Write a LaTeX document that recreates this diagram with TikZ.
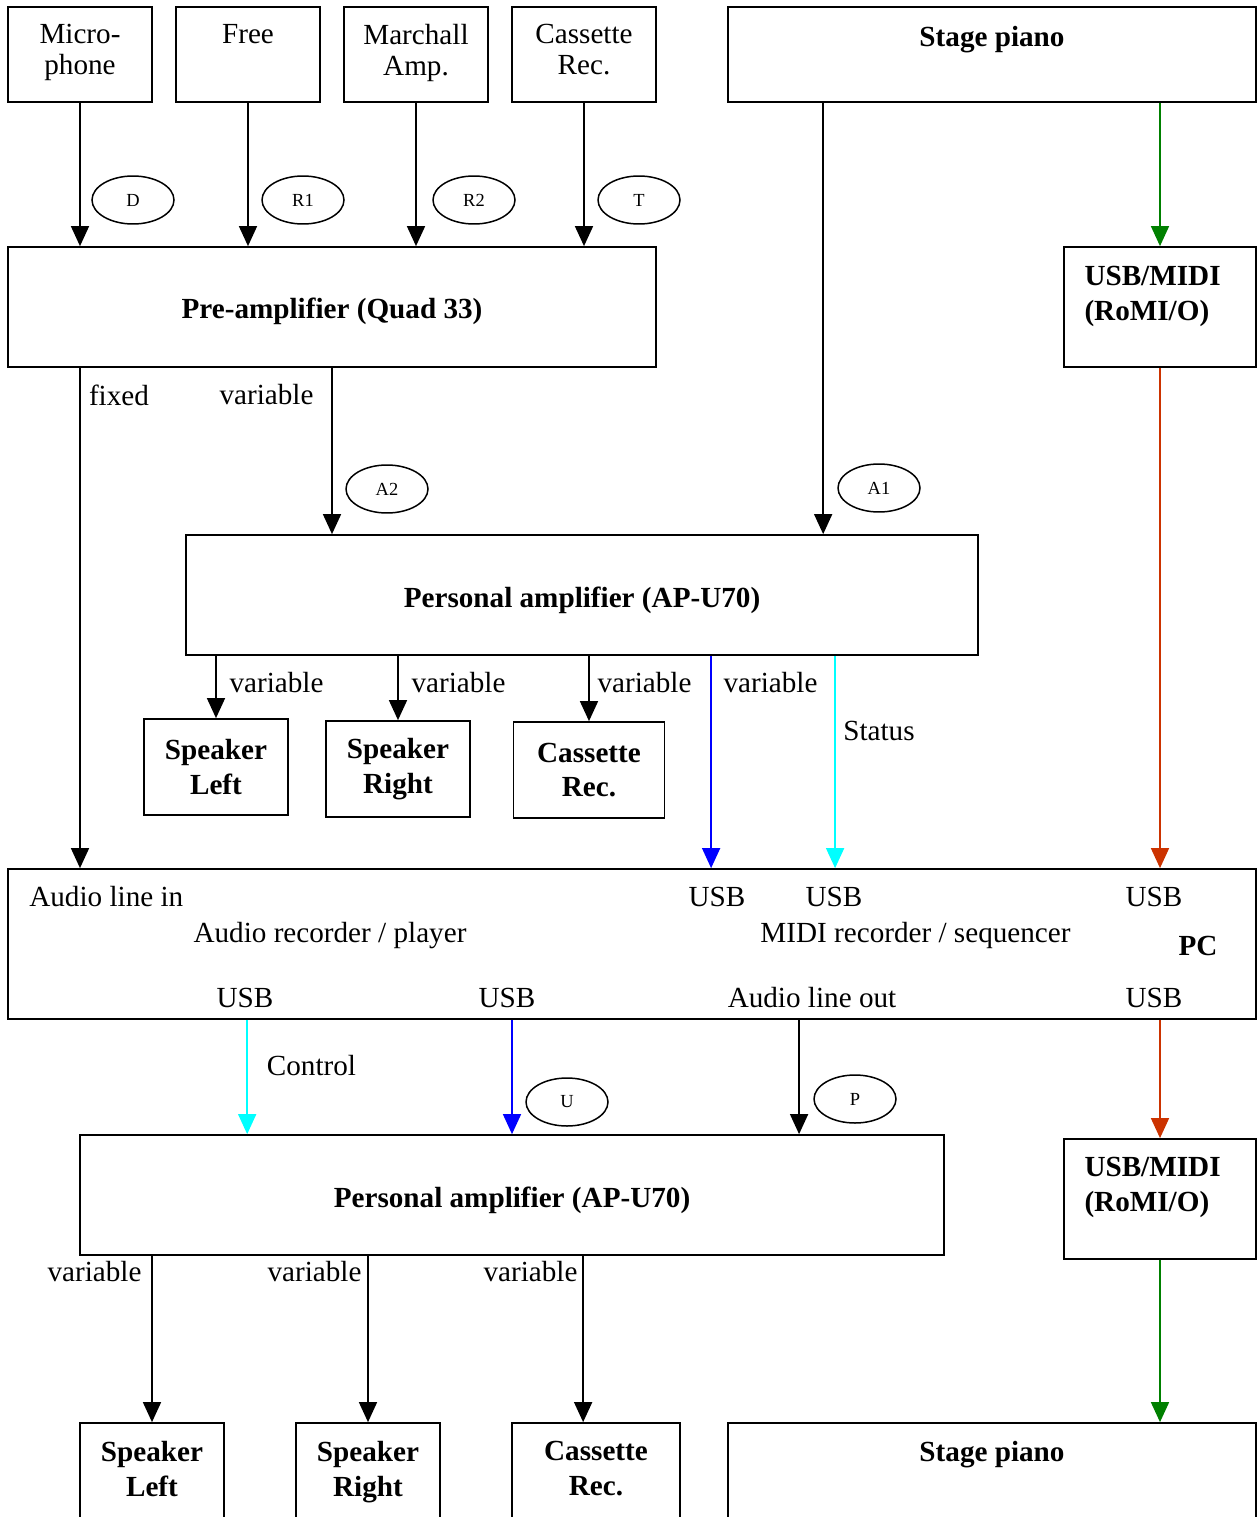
\documentclass[tikz,border=0pt]{standalone}
\usepackage{fontspec}
\setmainfont{Liberation Serif}
\usetikzlibrary{positioning, arrows.meta, shapes.geometric}

\definecolor{midigreen}{RGB}{0,128,0}
\definecolor{midired}{RGB}{204,51,0}
\definecolor{ctlcyan}{RGB}{0,255,255}

\begin{document}
\begin{tikzpicture}[
    x=0.02cm, y=-0.02cm,
    box/.style={rectangle, draw=black, line width=0.035cm, inner sep=0pt, align=center,
        font=\fontsize{16.6}{19.5}\selectfont\bfseries},
    src/.style={box, minimum width=2.88cm, minimum height=1.9cm},
    wide/.style={box, minimum height=2.4cm, text height=0.48cm, text depth=0pt},
    spk/.style={box, minimum width=2.88cm, minimum height=1.92cm},
    txt/.style={inner sep=0pt, align=center, font=\fontsize{16.6}{17.5}\selectfont},
    bold/.style={inner sep=0pt, align=center, font=\fontsize{16.6}{19.5}\selectfont\bfseries},
    tag/.style={ellipse, draw=black, line width=0.03cm, minimum width=1.64cm,
        minimum height=0.96cm, inner sep=0pt, font=\fontsize{10.5}{12}\selectfont},
    arrow/.style={-{Triangle[length=0.4cm, width=0.36cm]}, line width=0.03cm},
]
    \clip (0,0) rectangle (1258,1517);

    % Sources
    \node[src] (mic) at (80,54.5) {};
    \node[src] (free) at (248,54.5) {};
    \node[src] (marshall) at (416,54.5) {};
    \node[src] (tapeA) at (584,54.5) {};
    \node[box, minimum width=10.56cm, minimum height=1.9cm] (pianoA) at (992,54.5) {};

    \node[txt, below=0.36cm of mic.north] (micT) {Micro-\\phone};
    \node[txt, below=0.36cm of free.north] (freeT) {Free};
    \node[txt, below=0.36cm of marshall.north] (marshallT) {Marchall\\Amp.};
    \node[txt, below=0.36cm of tapeA.north] (tapeAT) {Cassette\\Rec.};
    \node[bold, below=0.39cm of pianoA.north] (pianoAT) {Stage piano};

    % Pre-amplifier and MIDI interface
    \node[wide, minimum width=12.96cm] (preamp) at (332,307) {Pre-amplifier (Quad 33)};
    \node[box, minimum width=3.84cm, minimum height=2.4cm] (romiA) at (1160,307) {};
    \node[bold, align=left, below right=0.4cm and 0.42cm of romiA.north west] (romiAT) {USB/MIDI\\(RoMI/O)};

    \foreach \s in {mic, free, marshall, tapeA} {
        \draw[arrow] (\s.south) -- (\s.south |- preamp.north);
    }
    \node[tag] (tagD) at (133,200) {D};
    \node[tag] (tagR1) at (303,200) {R1};
    \node[tag] (tagR2) at (474,200) {R2};
    \node[tag] (tagT) at (639,200) {T};

    \draw[arrow, midigreen] (romiA.north |- pianoA.south) -- (romiA.north);

    % Personal amplifier (upper)
    \node[wide, minimum width=15.84cm] (ampA) at (582,595) {Personal amplifier (AP-U70)};
    \coordinate (pianoOut) at ([xshift=1.92cm]pianoA.south west);
    \draw[arrow] (pianoOut) -- (pianoOut |- ampA.north);
    \draw[arrow] (preamp.south) -- (preamp.south |- ampA.north);
    \node[tag] (tagA2) at (387,489) {A2};
    \node[tag] (tagA1) at (879,488) {A1};
    \node[txt] (fixedL) at (119,395) {fixed};
    \node[txt] (varL) at (266.5,395) {variable};

    \node[spk] (spkLA) at (216,767) {Speaker\\Left};
    \node[spk] (spkRA) at (398,769) {Speaker\\Right};
    \node[spk, minimum width=3.02cm] (tapeB) at (589,770) {Cassette\\Rec.};
    \foreach \s in {spkLA, spkRA, tapeB} {
        \draw[arrow] (\s.north |- ampA.south) -- (\s.north);
    }
    \node[txt] (varA1) at (276.5,683) {variable};
    \node[txt] (varA2) at (458.5,683) {variable};
    \node[txt] (varA3) at (644.5,683) {variable};
    \node[txt] (varA4) at (770.5,683) {variable};
    \node[txt] (statusL) at (879,731) {Status};

    % PC
    \node[box, minimum width=24.96cm, minimum height=3cm] (pc) at (632,944) {};
    \coordinate (blueIn) at ([xshift=14.08cm]pc.north west);
    \coordinate (cyanIn) at ([xshift=16.56cm]pc.north west);
    \draw[arrow] (mic.south |- preamp.south) -- (mic.south |- pc.north);
    \draw[arrow, blue] (blueIn |- ampA.south) -- (blueIn);
    \draw[arrow, ctlcyan] (cyanIn |- ampA.south) -- (cyanIn);
    \draw[arrow, midired] (romiA.south) -- (romiA.south |- pc.north);

    \node[txt, anchor=west] (lineIn) at (29,897) {Audio line in};
    \node[txt] (usbI1) at (717,897) {USB};
    \node[txt] (usbI2) at (834,897) {USB};
    \node[txt] (usbI3) at (1154,897) {USB};
    \node[txt, anchor=base] (audioRec) at (330,942) {Audio recorder / player};
    \node[txt, anchor=base] (midiRec) at (915.5,942) {MIDI recorder / sequencer};
    \node[bold] (pcT) at (1198,946) {PC};
    \node[txt] (usbO1) at (245,998) {USB};
    \node[txt] (usbO2) at (507,998) {USB};
    \node[txt] (lineOut) at (812,998) {Audio line out};
    \node[txt] (usbO3) at (1154,998) {USB};

    % Personal amplifier (lower)
    \node[wide, minimum width=17.28cm] (ampB) at (512,1195) {Personal amplifier (AP-U70)};
    \node[box, minimum width=3.84cm, minimum height=2.4cm] (romiB) at (1160,1199) {};
    \node[bold, align=left, below right=0.38cm and 0.42cm of romiB.north west] (romiBT) {USB/MIDI\\(RoMI/O)};

    \coordinate (ctlIn) at ([xshift=3.36cm]ampB.north west);
    \coordinate (lineIn2) at ([xshift=14.4cm]ampB.north west);
    \draw[arrow, ctlcyan] (ctlIn |- pc.south) -- (ctlIn);
    \draw[arrow, blue] (ampB.north |- pc.south) -- (ampB.north);
    \draw[arrow] (lineIn2 |- pc.south) -- (lineIn2);
    \draw[arrow, midired] (romiB.north |- pc.south) -- (romiB.north);
    \node[txt] (ctlL) at (311.5,1066) {Control};
    \node[tag] (tagU) at (567,1102) {U};
    \node[tag] (tagP) at (855,1099) {P};

    % Outputs
    \node[box, minimum width=2.88cm, minimum height=3cm] (spkLB) at (152,1498) {};
    \node[box, minimum width=2.88cm, minimum height=3cm] (spkRB) at (368,1498) {};
    \node[box, minimum width=3.36cm, minimum height=3cm] (tapeC) at (596,1498) {};
    \node[box, minimum width=10.56cm, minimum height=3cm] (pianoB) at (992,1498) {};
    \node[bold, below=0.38cm of spkLB.north] (spkLBT) {Speaker\\Left};
    \node[bold, below=0.38cm of spkRB.north] (spkRBT) {Speaker\\Right};
    \node[bold, below=0.38cm of tapeC.north] (tapeCT) {Cassette\\Rec.};
    \node[bold, below=0.38cm of pianoB.north] (pianoBT) {Stage piano};

    \coordinate (tapeIn) at ([xshift=1.44cm]tapeC.north west);
    \draw[arrow] (spkLB.north |- ampB.south) -- (spkLB.north);
    \draw[arrow] (spkRB.north |- ampB.south) -- (spkRB.north);
    \draw[arrow] (tapeIn |- ampB.south) -- (tapeIn);
    \draw[arrow, midigreen] (romiB.south) -- (romiB.south |- pianoB.north);
    \node[txt] (varB1) at (94.5,1272) {variable};
    \node[txt] (varB2) at (314.5,1272) {variable};
    \node[txt] (varB3) at (530.5,1272) {variable};
\end{tikzpicture}
\end{document}
